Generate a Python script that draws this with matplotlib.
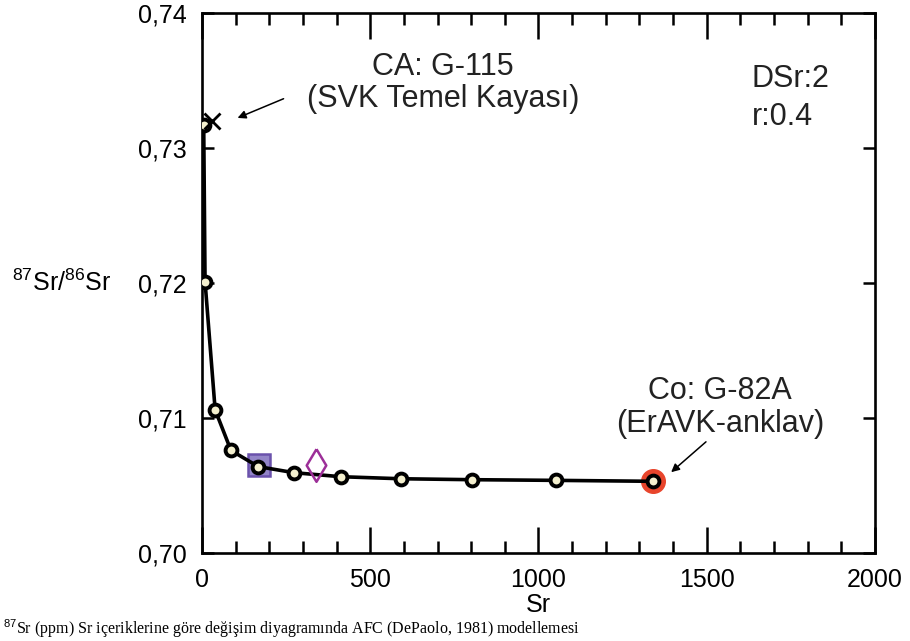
import numpy as np
import matplotlib
matplotlib.use("Agg")
import matplotlib.pyplot as plt
from matplotlib.ticker import FixedLocator, MultipleLocator

plt.rcParams['font.family'] = ['Liberation Sans', 'DejaVu Sans']
plt.rcParams['mathtext.fontset'] = 'custom'
plt.rcParams['mathtext.rm'] = 'Liberation Sans'

# AFC model curve (Sr ppm vs 87Sr/86Sr)
sr_model = [5, 9, 39, 86, 167, 273, 413, 590, 801, 1051, 1341]
ratio_model = [0.7317, 0.7201, 0.7106, 0.7076, 0.7064, 0.70595, 0.70565,
               0.7055, 0.70543, 0.70538, 0.70531]

# samples
ca_sr, ca_ratio = 30, 0.7320          # CA: G-115
co_sr, co_ratio = 1341, 0.70531       # Co: G-82A
square_sr, square_ratio = 170, 0.7065
diamond_sr, diamond_ratio = 339, 0.7065

x_ticks = [0, 500, 1000, 1500, 2000]
y_ticks = [0.70, 0.71, 0.72, 0.73, 0.74]
y_labels = ['0,70', '0,71', '0,72', '0,73', '0,74']

fig = plt.figure(figsize=(9.1, 6.41), dpi=100)
ax = fig.add_axes([0.222, 0.1373, 0.7395, 0.8424])

ax.plot(co_sr, co_ratio, 'o', ms=17, mfc='#e8452c', mec='#e8452c', zorder=2)
ax.plot(square_sr, square_ratio, 's', ms=16, mfc='#9385c8', mec='#6b52ac', mew=1.8,
        zorder=2.5)
ax.plot(sr_model, ratio_model, '-', color='black', lw=2.6, zorder=3)
ax.plot(sr_model, ratio_model, 'o', ms=8.5, mfc='#f4f0cf', mec='black', mew=2.8, zorder=4)

diamond = [(0, 1), (0.6, 0), (0, -1), (-0.6, 0), (0, 1)]
ax.plot(diamond_sr, diamond_ratio, marker=diamond, ms=23.5, mfc='none', mec='#9c2f98',
        mew=1.8, ls='none', zorder=5)
ax.plot(ca_sr, ca_ratio, 'x', ms=12, mec='black', mew=2, zorder=5)

ax.set_xlim(0, 2000)
ax.set_ylim(0.70, 0.74)
ax.xaxis.set_major_locator(FixedLocator(x_ticks))
ax.xaxis.set_minor_locator(MultipleLocator(100))
ax.yaxis.set_major_locator(FixedLocator(y_ticks))
ax.set_yticklabels(y_labels)
ax.set_xticklabels([str(v) for v in x_ticks])

ax.tick_params(axis='x', which='major', direction='in', length=18.5, width=1.8,
               top=True, labelsize=18, pad=11)
ax.tick_params(axis='x', which='minor', direction='in', length=8.5, width=1.8, top=True)
ax.tick_params(axis='y', which='major', direction='in', length=8.5, width=1.8,
               right=True, labelsize=18, pad=11)
for s in ax.spines.values():
    s.set_linewidth(1.9)

ax.set_xlabel('Sr', fontsize=18, labelpad=0.5)
fig.text(0.013, 1 - 283 / 641, r'$^{87}$Sr/$^{86}$Sr', fontsize=18, va='center', ha='left')

# annotations
ax.text(0.358, 0.900, 'CA: G-115', transform=ax.transAxes, fontsize=22,
        ha='center', va='center', color='#222222')
ax.text(0.358, 0.840, '(SVK Temel Kayası)', transform=ax.transAxes, fontsize=22,
        ha='center', va='center', color='#222222')
ax.annotate('', xy=(98, 0.73215), xytext=(250, 0.73373),
            arrowprops=dict(arrowstyle='-|>', color='black', lw=1.1, mutation_scale=12))

ax.text(0.770, 0.300, 'Co: G-82A', transform=ax.transAxes, fontsize=22,
        ha='center', va='center', color='#222222')
ax.text(0.770, 0.239, '(ErAVK-anklav)', transform=ax.transAxes, fontsize=22,
        ha='center', va='center', color='#222222')
ax.annotate('', xy=(1388, 0.70585), xytext=(1504, 0.70837),
            arrowprops=dict(arrowstyle='-|>', color='black', lw=1.1, mutation_scale=12))

ax.text(0.817, 0.878, 'DSr:2', transform=ax.transAxes, fontsize=22,
        ha='left', va='center', color='#222222')
ax.text(0.817, 0.807, 'r:0.4', transform=ax.transAxes, fontsize=22,
        ha='left', va='center', color='#222222')

# caption line below the chart
fig.text(0.003, 0.001,
         '$^{87}$Sr (ppm) Sr içeriklerine göre değişim diyagramında AFC (DePaolo, 1981) modellemesi',
         fontsize=11.5, family=['Liberation Serif', 'DejaVu Serif'], va='bottom', ha='left')

fig.savefig('out.png', dpi=100)
